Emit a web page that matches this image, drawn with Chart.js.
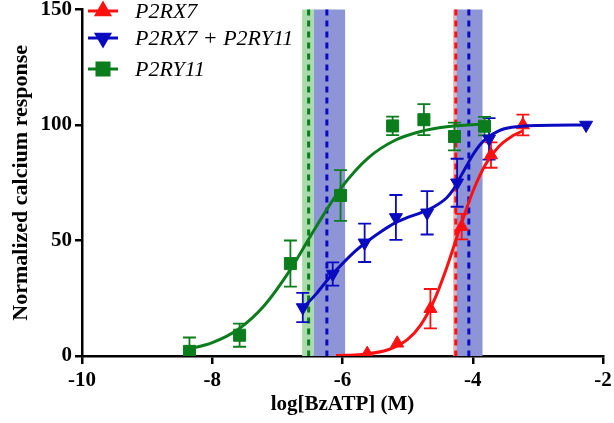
<!DOCTYPE html>
<html>
<head>
<meta charset="utf-8">
<script src="https://cdn.jsdelivr.net/npm/chart.js@4"></script>
<style>
  body { margin: 0; background: #fff; }
  #wrap { width: 614px; height: 423px; }
  .pre { font-family: 'Liberation Serif'; position: absolute; left: -1000px; }
</style>
</head>
<body>
<span class="pre" style="font-weight:bold">150</span><span class="pre" style="font-style:italic">P2RX7</span>
<div id="wrap"><canvas id="doseChart" width="614" height="423"></canvas></div>
<script>
// ticks
const xTicks = [-10, -8, -6, -4, -2];
const yTicks = [0, 50, 100, 150];

// measured points: log[BzATP], mean, SEM
const p2rx7X   = [-5.62, -5.16, -4.65, -4.17, -3.72, -3.23];
const p2rx7Y   = [1, 5.5, 20.5, 56, 87, 100];
const p2rx7Err = [0, 0, 8.5, 5.5, 5.5, 4.5];

const comboX   = [-6.61, -6.15, -5.66, -5.18, -4.70, -4.24, -3.75, -2.26];
const comboY   = [21, 35.5, 49, 60, 62, 75, 94, 100];
const comboErr = [6.3, 5, 8.3, 9.7, 9.4, 10.4, 9, 0];

const p2ry11X   = [-8.35, -7.58, -6.80, -6.03, -5.23, -4.75, -4.28, -3.82];
const p2ry11Y   = [2, 9, 40, 69.5, 99.6, 102.3, 95, 99.5];
const p2ry11Err = [6, 5, 10, 11, 4, 6.7, 6, 4];

// fitted curves
const p2rx7CurveX = [-6.1, -5.7, -5.3, -5.0, -4.8, -4.6, -4.4, -4.2, -4.0, -3.8, -3.6, -3.4, -3.23];
const p2rx7CurveY = [0.2, 0.7, 2.7, 7.2, 13.4, 23.6, 38.2, 55.2, 71.1, 83.1, 90.7, 95.1, 97.5];

const comboCurveX = [-6.6, -6.4, -6.2, -6.0, -5.8, -5.6, -5.4, -5.2, -5.0, -4.8, -4.6, -4.4, -4.3, -4.2, -4.1, -4.0, -3.9, -3.8, -3.6, -3.4, -3.0, -2.26];
const comboCurveY = [21, 27, 34, 40, 45.5, 50, 54, 57.5, 60, 62, 64.5, 68.5, 72, 77, 82, 87, 91, 94, 97.5, 99, 99.8, 100];

const p2ry11CurveX = [-8.4, -8.0, -7.6, -7.2, -6.8, -6.4, -6.0, -5.6, -5.2, -4.8, -4.4, -3.82];
const p2ry11CurveY = [2.8, 5.8, 11.6, 21.9, 37.4, 56.2, 73.5, 85.9, 93.3, 97.2, 99.2, 100.4];

// EC50 lines and 95% CI bands
const p2rx7Ec50 = [-4.26];
const p2rx7Bands = [[-4.30, -4.25]];
const comboEc50 = [-6.24, -4.06];
const comboBands = [[-6.44, -5.96], [-4.25, -3.85]];
const p2ry11Ec50 = [-6.52];
const p2ry11Bands = [[-6.62, -6.44]];

const RED = '#ff1010';
const BLUE = '#0a0ac0';
const GREEN = '#0b7d1c';
const SERIF = "'Liberation Serif', 'Times New Roman', serif";

const toPts = (xs, ys) => xs.map((x, i) => ({ x: x, y: ys[i] }));

const series = [
    { label: 'P2RX7', color: RED, style: 'triangle', rot: 0, r: 7.5, x: p2rx7X, y: p2rx7Y, err: p2rx7Err, cx: p2rx7CurveX, cy: p2rx7CurveY },
    { label: 'P2RX7 + P2RY11', color: BLUE, style: 'triangle', rot: 180, r: 7.5, x: comboX, y: comboY, err: comboErr, cx: comboCurveX, cy: comboCurveY },
    { label: 'P2RY11', color: GREEN, style: 'rect', rot: 0, r: 8.5, x: p2ry11X, y: p2ry11Y, err: p2ry11Err, cx: p2ry11CurveX, cy: p2ry11CurveY }
];

const datasets = [];
series.forEach(s => {
    datasets.push({
        label: s.label + ' fit',
        data: toPts(s.cx, s.cy),
        showLine: true,
        borderColor: s.color,
        borderWidth: 3,
        pointRadius: 0,
        cubicInterpolationMode: 'monotone',
        fill: false
    });
});
series.forEach(s => {
    datasets.push({
        label: s.label,
        data: toPts(s.x, s.y),
        errors: s.err,
        showLine: false,
        pointStyle: s.style,
        rotation: s.rot,
        pointRadius: s.r,
        pointBackgroundColor: s.color,
        pointBorderColor: s.color,
        pointBorderWidth: 1
    });
});

// bands + dashed EC50 lines + error bars, behind the marks
const bandPlugin = {
    id: 'bands',
    beforeDatasetsDraw(chart) {
        const { ctx, chartArea, scales } = chart;
        const xs = scales.x;
        const groups = [
            { bands: p2ry11Bands, lines: p2ry11Ec50, fill: '#a9dcaa', line: GREEN },
            { bands: p2rx7Bands, lines: p2rx7Ec50, fill: '#eeb0b0', line: RED },
            { bands: comboBands, lines: comboEc50, fill: '#8e95d6', line: BLUE }
        ];
        ctx.save();
        groups.forEach(g => {
            ctx.fillStyle = g.fill;
            g.bands.forEach(b => {
                const a = xs.getPixelForValue(b[0]);
                const c = xs.getPixelForValue(b[1]);
                ctx.fillRect(a, chartArea.top, c - a, chartArea.bottom - chartArea.top);
            });
        });
        ctx.lineWidth = 3;
        ctx.setLineDash([6, 5]);
        groups.forEach(g => {
            ctx.strokeStyle = g.line;
            g.lines.forEach(v => {
                const px = xs.getPixelForValue(v);
                ctx.beginPath();
                ctx.moveTo(px, chartArea.top);
                ctx.lineTo(px, chartArea.bottom);
                ctx.stroke();
            });
        });
        ctx.restore();

        const ys = scales.y;
        ctx.save();
        ctx.lineWidth = 1.8;
        chart.data.datasets.forEach(ds => {
            if (!ds.errors) return;
            ctx.strokeStyle = ds.pointBorderColor;
            ds.data.forEach((p, i) => {
                const e = ds.errors[i];
                if (!e) return;
                const px = xs.getPixelForValue(p.x);
                const top = ys.getPixelForValue(p.y + e);
                const rawBot = ys.getPixelForValue(p.y - e);
                const bot = Math.min(rawBot, chartArea.bottom);
                ctx.beginPath();
                ctx.moveTo(px, top); ctx.lineTo(px, bot);
                ctx.moveTo(px - 6.5, top); ctx.lineTo(px + 6.5, top);
                if (rawBot <= chartArea.bottom) {
                    ctx.moveTo(px - 6.5, bot); ctx.lineTo(px + 6.5, bot);
                }
                ctx.stroke();
            });
        });
        ctx.restore();
    }
};

// legend: line with marker, italic labels
const legendPlugin = {
    id: 'lineLegend',
    afterDraw(chart) {
        const ctx = chart.ctx;
        const rows = [11, 38, 69];
        ctx.save();
        series.forEach((s, i) => {
            const y = rows[i];
            ctx.strokeStyle = s.color;
            ctx.lineWidth = 3;
            ctx.setLineDash([]);
            ctx.beginPath();
            ctx.moveTo(88, y); ctx.lineTo(118, y);
            ctx.stroke();
            ctx.fillStyle = s.color;
            Chart.helpers.drawPoint(ctx, { pointStyle: s.style, rotation: s.rot, radius: s.r, borderWidth: 1 }, 103, y);
            ctx.fill();
            ctx.fillStyle = '#000';
            ctx.font = 'italic 22px ' + SERIF;
            ctx.textBaseline = 'middle';
            ctx.fillText(s.label, 135, y + 1);
        });
        ctx.restore();
    }
};

const xTickFont = { family: SERIF, size: 21, weight: 'bold', lineHeight: 0.95 };
const yTickFont = { family: SERIF, size: 21, weight: 'bold', lineHeight: 0.55 };

function draw() {
    new Chart(document.getElementById('doseChart'), {
        type: 'scatter',
        data: { datasets: datasets },
        options: {
            responsive: false,
            animation: false,
            layout: { padding: 0 },
            plugins: { legend: { display: false }, tooltip: { enabled: false } },
            scales: {
                x: {
                    min: xTicks[0],
                    max: xTicks[xTicks.length - 1],
                    afterBuildTicks: s => { s.ticks = xTicks.map(v => ({ value: v })); },
                    afterFit: s => { s.height = 67; s.paddingRight = 11; },
                    ticks: { color: '#000', font: xTickFont, padding: 7 },
                    grid: { display: true, drawOnChartArea: false, drawTicks: true, tickLength: 8, color: '#000', lineWidth: 2.5 },
                    border: { display: true, color: '#000', width: 2.5 },
                    title: { display: true, text: 'log[BzATP] (M)', color: '#000', padding: { top: 0, bottom: 6 },
                        font: { family: SERIF, size: 21, weight: 'bold' } }
                },
                y: {
                    min: yTicks[0],
                    max: yTicks[yTicks.length - 1],
                    afterBuildTicks: s => { s.ticks = yTicks.map(v => ({ value: v })); },
                    afterFit: s => { s.width = 82; },
                    ticks: { color: '#000', font: yTickFont, padding: 3 },
                    grid: { display: true, drawOnChartArea: false, drawTicks: true, tickLength: 7, color: '#000', lineWidth: 2.5 },
                    border: { display: true, color: '#000', width: 2.5 },
                    title: { display: true, text: 'Normalized calcium response', color: '#000', padding: { top: 8, bottom: 0 },
                        font: { family: SERIF, size: 22, weight: 'bold' } }
                }
            }
        },
        plugins: [bandPlugin, legendPlugin]
    });
}

Promise.all([
    document.fonts.load("bold 19px 'Liberation Serif'"),
    document.fonts.load("italic 21px 'Liberation Serif'")
]).then(draw, draw);
</script>
</body>
</html>
